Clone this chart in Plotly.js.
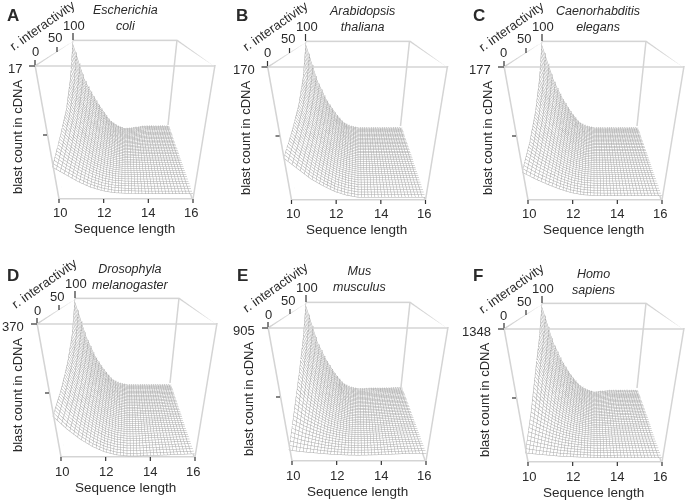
<!DOCTYPE html>
<html>
<head>
<meta charset="utf-8">
<script src="https://cdn.plot.ly/plotly-3.0.1.min.js"></script>
<style>html,body{margin:0;padding:0;background:#fff}</style>
</head>
<body>
<div id="chart" style="width:685px;height:500px"></div>
<script>
var seqLength = [10,10.5,11,11.5,12,12.5,13,13.5,14,14.5,15,15.5,16];
var interactivity = [0,25,50,75,100];
var letters = ['A','B','C','D','E','F'];
var species = ['Escherichia<br>coli','Arabidopsis<br>thaliana','Caenorhabditis<br>elegans','Drosophyla<br>melanogaster','Mus<br>musculus','Homo<br>sapiens'];
var topCounts = [17,170,177,370,905,1348];
var seqTicks = [10,12,14,16];

// rows go with interactivity, share of the top count
var shareA = [
  [.295,.23,.165,.114,.08,.06,.055,.052,.05,.05,.05,.05,.05],
  [.39,.28,.20,.135,.09,.065,.055,.055,.055,.055,.055,.055,.055],
  [.50,.36,.25,.16,.10,.07,.05,.055,.06,.06,.06,.06,.06],
  [.70,.47,.32,.21,.12,.07,.045,.05,.06,.065,.065,.065,.065],
  [1,.63,.44,.28,.14,.07,.034,.045,.06,.07,.07,.07,.07]];
var shareB = [
  [.38,.29,.20,.135,.08,.045,.025,.025,.025,.025,.025,.025,.025],
  [.45,.33,.23,.15,.09,.055,.035,.035,.035,.035,.035,.035,.035],
  [.55,.39,.27,.17,.10,.065,.045,.045,.045,.045,.045,.045,.045],
  [.72,.49,.33,.21,.12,.07,.05,.05,.05,.05,.05,.05,.05],
  [1,.62,.40,.25,.13,.08,.06,.06,.06,.06,.06,.06,.06]];
var shareC = [
  [.26,.20,.15,.105,.07,.05,.042,.04,.04,.04,.04,.04,.04],
  [.35,.26,.19,.125,.08,.055,.045,.045,.045,.045,.045,.045,.045],
  [.49,.35,.25,.16,.095,.06,.05,.05,.05,.05,.05,.05,.05],
  [.70,.47,.32,.20,.11,.07,.055,.055,.055,.055,.055,.055,.055],
  [1,.64,.42,.26,.13,.08,.06,.06,.06,.06,.06,.06,.06]];
var shareD = [
  [.37,.26,.17,.10,.05,.02,.008,.008,.012,.016,.02,.025,.03],
  [.44,.31,.21,.13,.07,.035,.02,.02,.025,.03,.03,.035,.035],
  [.55,.38,.26,.16,.09,.05,.035,.035,.04,.04,.04,.045,.045],
  [.72,.49,.32,.20,.11,.065,.05,.05,.05,.05,.05,.055,.055],
  [1,.63,.40,.25,.13,.08,.06,.06,.06,.06,.06,.06,.06]];
var shareE = [
  [.105,.09,.08,.07,.062,.057,.055,.057,.06,.065,.07,.072,.075],
  [.30,.22,.16,.11,.08,.06,.055,.057,.06,.065,.07,.072,.075],
  [.50,.35,.24,.15,.095,.065,.055,.057,.06,.065,.07,.072,.075],
  [.72,.48,.32,.20,.115,.07,.058,.06,.065,.068,.07,.072,.075],
  [1,.62,.41,.25,.13,.08,.06,.062,.065,.068,.07,.072,.075]];
var shareF = [
  [.085,.075,.065,.055,.05,.045,.04,.04,.04,.04,.04,.04,.04],
  [.27,.20,.14,.095,.065,.045,.035,.035,.04,.04,.04,.04,.04],
  [.50,.34,.23,.145,.085,.05,.03,.035,.04,.045,.045,.05,.05],
  [.72,.47,.31,.19,.105,.055,.03,.035,.045,.05,.05,.05,.05],
  [1,.62,.40,.24,.12,.06,.03,.04,.05,.05,.05,.05,.05]];
var shares = [shareA,shareB,shareC,shareD,shareE,shareF];

// where each panel sits on the page: box centre and the height of its front top edge
var boxX = [125,357.5,594,127,358,594];
var boxTop = [65,66,66,323,327,328];
var letterX = [13,242,479,13,242,478];
var letterY = [15,15,15,275,275,275];
var nameX = [125,362,598,130,359,593];
var nameY = [18,19,19,277,279,282];
var zTitleX = [17,245,487,17,248,484];

var W = 685, H = 500;
var textFont = {family:'Liberation Sans', size:13, color:'#2a2a2a'};
var data = [], shapes = [], annotations = [];
var layout = {
  width:W, height:H, margin:{l:0,r:0,t:0,b:0}, showlegend:false,
  paper_bgcolor:'#fff', plot_bgcolor:'#fff'
};

function label(x,y,text,size,extra){
  var a = {xref:'paper',yref:'paper',x:x/W,y:1-y/H,text:text,showarrow:false,
    xanchor:'center',yanchor:'middle',
    font:{family:textFont.family,size:size,color:textFont.color}};
  for (var k in extra) a[k] = extra[k];
  annotations.push(a);
}
function tick(x0,y0,x1,y1,col,width){
  shapes.push({type:'line',xref:'paper',yref:'paper',x0:x0/W,y0:1-y0/H,x1:x1/W,y1:1-y1/H,
    line:{color:col||'#333',width:width||1.2}});
}

letters.forEach(function(letter,i){
  var sceneName = i === 0 ? 'scene' : 'scene'+(i+1);
  var cx = boxX[i], top = boxTop[i], cy = top+44.5, zMax = topCounts[i];
  var boxAxis = {visible:false,showgrid:false,zeroline:false,showticklabels:false,ticks:'',ticklen:0,
    showbackground:false,showspikes:false,showline:false,title:{text:''}};
  layout[sceneName] = {
    domain:{x:[(cx-91)/W,Math.min(1,(cx+91)/W)],y:[1-(cy+92.5)/H,1-(cy-92.5)/H]},
    aspectmode:'manual',aspectratio:{x:1,y:1,z:1},
    camera:{eye:{x:0,y:-1.726,z:.805},center:{x:0,y:0,z:0},up:{x:0,y:0,z:1}},
    xaxis:Object.assign({range:[10,16]},boxAxis),
    yaxis:Object.assign({range:[0,100]},boxAxis),
    zaxis:Object.assign({range:[0,zMax]},boxAxis)
  };
  data.push({
    type:'surface',scene:sceneName,x:seqLength,y:interactivity,
    z:shares[i].map(function(row){return row.map(function(v){return v*zMax;});}),
    showscale:false,hoverinfo:'skip',
    colorscale:[[0,'#fff'],[1,'#fff']],
    lighting:{ambient:1,diffuse:0,specular:0,roughness:1,fresnel:0},
    contours:{
      x:{show:true,start:10,end:16,size:.15,color:'#a8a8a8',width:1,highlight:false},
      y:{show:true,start:0,end:100,size:2.5,color:'#a8a8a8',width:1,highlight:false},
      z:{show:false,highlight:false}
    }
  });
  // bottom and top rings of the box
  data.push({
    type:'scatter3d',scene:sceneName,mode:'lines',hoverinfo:'skip',connectgaps:false,
    x:[10,16,16,10,10,null,10,16,16,10,10],
    y:[0,0,100,100,0,null,0,0,100,100,0],
    z:[0,0,0,0,0,null,zMax,zMax,zMax,zMax,zMax],
    line:{color:'#d4d4d4',width:3}
  });

  // upright edges come out too thin in gl, so they go on as shapes
  tick(cx-90,top,cx-66,top+134,'#d4d4d4',1.5);
  tick(cx+90,top,cx+68,top+134,'#d4d4d4',1.5);
  tick(cx+52,top-25,cx+43,top+60,'#d4d4d4',1.5);

  label(letterX[i],letterY[i],'<b>'+letter+'</b>',17,{});
  label(nameX[i],nameY[i],'<i>'+species[i]+'</i>',12.5,{});
  label(cx-83,top-40,'r. interactivity',13,{textangle:-35});
  label(zTitleX[i],top+72,'blast count in cDNA',13,{textangle:-90});
  label(cx-51,top-40,'100',13,{});
  label(cx-70,top-27,'50',13,{});
  label(cx-90,top-13,'0',13,{});
  label(cx-101,top+3,String(zMax),13,{xanchor:'right'});
  label(cx-1,top+164,'Sequence length',13.5,{});

  // tick marks beside the box
  tick(cx-52,top-32,cx-52,top-25);
  tick(cx-68,top-18,cx-68,top-13);
  tick(cx-90,top-5,cx-90,top);
  tick(cx-96,top+1,cx-90,top+1);
  tick(cx-82,top+70,cx-78,top+70);
  seqTicks.forEach(function(t,j){
    var x = cx-66+(t-10)/6*134;
    tick(x,top+134,x,top+138);
    label(x+(j===0?1:0)+(j===3?-2:0),top+148,String(t),13,{});
  });
});
layout.annotations = annotations;
layout.shapes = shapes;

Plotly.newPlot('chart',data,layout,{displayModeBar:false});
</script>
</body>
</html>
